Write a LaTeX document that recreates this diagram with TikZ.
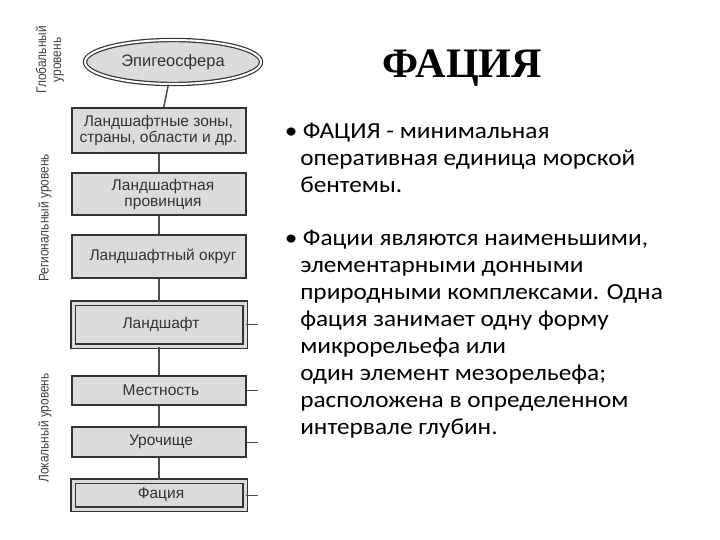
\documentclass[tikz,border=0pt]{standalone}
\usepackage{fontspec}
\setmainfont{Carlito}
\newfontfamily\serifb{Liberation Serif}
\newfontfamily\arialf{Liberation Sans}
\usetikzlibrary{shapes.geometric}
\begin{document}
\begin{tikzpicture}[x=1pt,y=-1pt,
  lvl/.style={draw=black!80,line width=1.5pt,fill=black!14},
  dbl/.style={double=black!14,double distance=3pt},
  lbl/.style={font=\arialf\fontsize{15.5}{16}\selectfont,text=black!80,align=center},
  side/.style={font=\arialf\fontsize{14}{15}\selectfont,text=black!75,rotate=90,align=center,xscale=0.85},
  link/.style={draw=black!70,line width=1.5pt},
  btxt/.style={font=\fontsize{23}{27}\selectfont,anchor=north west,align=left,xscale=1.1}]
\useasboundingbox (0,0) rectangle (720,540);
% ellipse
\node[ellipse,draw=black!80,line width=1.2pt,fill=black!14,minimum width=176pt,minimum height=44pt,double=white,double distance=2pt] (e) at (173,62) {};
\node[lbl,font=\arialf\fontsize{16.5}{17}\selectfont] (et) at (173,62) {Эпигеосфера};
% boxes
\node[lvl,minimum width=174pt,minimum height=45pt] (b1) at (159,130.5) {};
\begin{scope}
\clip (72,108) rectangle (246,153);
\node[lbl,anchor=west] (t1) at (76,130.5) {Ландшафтные зоны,\\страны, области и др.};
\end{scope}
\node[lvl,minimum width=174pt,minimum height=42pt] (b2) at (159,194) {};
\node[lbl] (t2) at (163,194) {Ландшафтная\\провинция};
\node[lvl,minimum width=174pt,minimum height=43pt] (b3) at (159,256.5) {};
\begin{scope}
\clip (72,235) rectangle (246,278);
\node[lbl,anchor=west] (t3) at (86,256.5) {Ландшафтный округ};
\end{scope}
\node[lvl,dbl,minimum width=172pt,minimum height=43pt] (b4) at (159,324.5) {};
\node[lbl] (t4) at (161,324.5) {Ландшафт};
\node[lvl,minimum width=174pt,minimum height=29pt] (b5) at (159,390.5) {};
\node[lbl] (t5) at (161,390.5) {Местность};
\node[lvl,minimum width=174pt,minimum height=30pt] (b6) at (159,442) {};
\node[lbl] (t6) at (161,442) {Урочище};
\node[lvl,dbl,minimum width=172pt,minimum height=28pt] (b7) at (159,495) {};
\node[lbl] (t7) at (161,495) {Фация};
\draw[link] (e) -- (b1); \draw[link] (b1) -- (b2); \draw[link] (b2) -- (b3);
\draw[link] (b3) -- (b4); \draw[link] (b4) -- (b5); \draw[link] (b5) -- (b6); \draw[link] (b6) -- (b7);
\foreach \n/\y in {b4/324.5,b5/390.5,b6/442,b7/495}{
  \coordinate (k\n) at (258,\y);
  \draw[black!70,line width=1pt] (\n.east) -- (k\n);}
% side labels
\node[side] (s1) at (50,60) {Глобальный\\уровень};
\node[side] (s2) at (45,218) {Региональный уровень};
\node[side] (s3) at (45,428) {Локальный уровень};
% right text
\node[font=\serifb\bfseries\fontsize{42}{46}\selectfont] (title) at (462,68) {ФАЦИЯ};
\node[btxt] (p1) at (281,120) {•\hspace{5pt}ФАЦИЯ - минимальная\\\hspace{14pt}оперативная единица морской\\\hspace{14pt}бентемы.};
\node[btxt] (p2) at (281,227) {•\hspace{5pt}Фации являются наименьшими,\\\hspace{14pt}элементарными донными\\\hspace{14pt}природными комплексами. Одна\\\hspace{14pt}фация занимает одну форму\\\hspace{14pt}микрорельефа или\\\hspace{14pt}один элемент мезорельефа;\\\hspace{14pt}расположена в определенном\\\hspace{14pt}интервале глубин.};
\end{tikzpicture}
\end{document}
